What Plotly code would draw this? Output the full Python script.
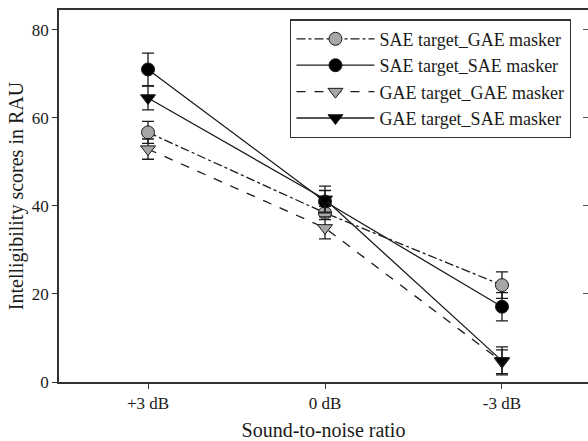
import plotly.graph_objects as go

categories = ["+3 dB", "0 dB", "-3 dB"]
x_pos = [0, 1, 2]

series_names = ["SAE target_GAE masker", "SAE target_SAE masker",
                "GAE target_GAE masker", "GAE target_SAE masker"]
sae_gae = [56.7, 38.4, 22.0]
sae_gae_err = [2.5, 1.5, 3.0]
sae_sae = [71.0, 41.0, 17.1]
sae_sae_err = [3.7, 2.5, 3.2]
gae_gae = [52.9, 35.0, 4.6]
gae_gae_err = [2.3, 2.5, 2.7]
gae_sae = [64.5, 41.5, 4.8]
gae_sae_err = [2.7, 3.0, 3.2]

yticks = [0, 20, 40, 60, 80]

FONT = "Liberation Serif"
GREY = "#a6a6a6"

styles = [
    (sae_gae, sae_gae_err, "dashdot", "circle", GREY),
    (sae_sae, sae_sae_err, "solid", "circle", "black"),
    (gae_gae, gae_gae_err, "dash", "triangle-down", GREY),
    (gae_sae, gae_sae_err, "solid", "triangle-down", "black"),
]

fig = go.Figure()
for name, (vals, errs, dash, sym, col) in zip(series_names, styles):
    fig.add_trace(go.Scatter(
        x=x_pos, y=vals, name=name, mode="lines+markers",
        line=dict(color="#1a1a1a", width=1.3, dash=dash),
        marker=dict(symbol=sym, size=13, color=col,
                    line=dict(color="#1a1a1a", width=1)),
        error_y=dict(type="data", array=errs, visible=True,
                     color="#1a1a1a", thickness=1.3, width=6),
    ))

# invisible trace to enable right-side ticks
fig.add_trace(go.Scatter(x=[0], y=[0], yaxis="y2", showlegend=False,
                         mode="markers", marker=dict(opacity=0),
                         hoverinfo="skip"))

fig.update_layout(
    width=588, height=441,
    margin=dict(l=59, r=0, t=10, b=59),
    paper_bgcolor="white", plot_bgcolor="white",
    font=dict(family=FONT, size=17, color="#1a1a1a"),
    showlegend=True,
    legend=dict(x=0.437, y=0.975, xanchor="left", yanchor="top",
                bordercolor="#333333", borderwidth=1.3, bgcolor="white",
                font=dict(family=FONT, size=18, color="#1a1a1a"),
                tracegroupgap=0, itemwidth=78),
    xaxis=dict(range=[-0.503, 2.486], tickmode="array", tickvals=x_pos,
               ticktext=categories, showgrid=False, zeroline=False,
               showline=True, linecolor="#333333", linewidth=1.5,
               mirror=True, ticks="outside", ticklen=5, tickcolor="#333333",
               tickfont=dict(family=FONT, size=17),
               title=dict(text="Sound-to-noise ratio",
                          font=dict(family=FONT, size=20), standoff=12)),
    yaxis=dict(range=[0, 84.5], tickmode="array", tickvals=yticks,
               showgrid=False, zeroline=False, showline=True,
               linecolor="#333333", linewidth=1.5, mirror=False,
               ticks="outside", ticklen=5, tickcolor="#333333",
               tickfont=dict(family=FONT, size=17),
               title=dict(text="Intelligibility scores in RAU",
                          font=dict(family=FONT, size=20), standoff=3)),
    yaxis2=dict(overlaying="y", side="right", range=[0, 84.5],
                tickmode="array", tickvals=yticks, showticklabels=False,
                showgrid=False, zeroline=False, showline=False,
                ticks="inside", ticklen=5, tickcolor="#555555"),
)

fig.write_html("out.html")
